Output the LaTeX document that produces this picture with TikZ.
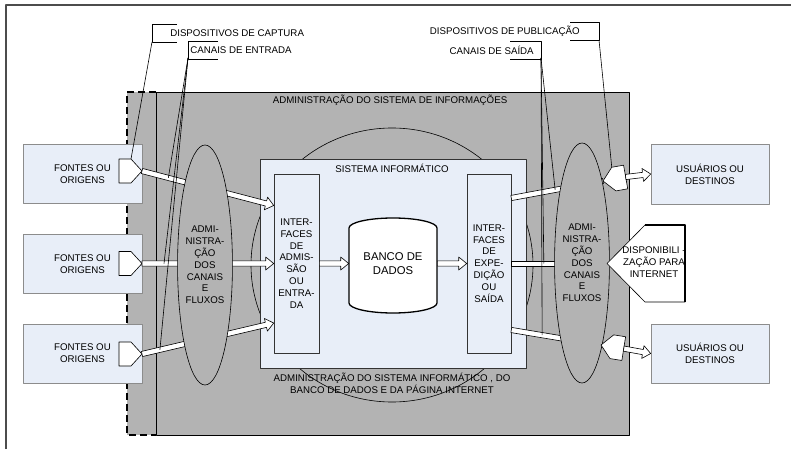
\documentclass[tikz,border=0pt]{standalone}
\usepackage{fontspec}
\setmainfont{Liberation Sans}
\usetikzlibrary{calc,shapes.geometric}
\definecolor{azulclaro}{RGB}{232,238,248}
\definecolor{cinza}{RGB}{179,179,179}
\definecolor{bordacinza}{RGB}{140,140,140}
\newcommand{\seta}[2]{%
	\draw[fill=white] ($(#1)!2.6pt!90:(#2)$) -- ($(#2)!8pt!(#1)!2.6pt!-90:(#1)$) -- ($(#2)!8pt!(#1)!6.5pt!-90:(#1)$) -- (#2) -- ($(#2)!8pt!(#1)!6.5pt!90:(#1)$) -- ($(#2)!8pt!(#1)!2.6pt!90:(#1)$) -- ($(#1)!2.6pt!-90:(#2)$) -- cycle;}
\newcommand{\duto}[2]{%
	\draw[fill=white] ($(#1)!2.6pt!90:(#2)$) -- ($(#2)!2.6pt!-90:(#1)$) -- ($(#2)!2.6pt!90:(#1)$) -- ($(#1)!2.6pt!-90:(#2)$) -- cycle;}
\begin{document}
\begin{tikzpicture}[x=1pt,y=-1pt,line join=round,line width=0.6pt,font=\fontsize{9.7pt}{11.8pt}\selectfont,
		caixa/.style={draw=bordacinza,fill=azulclaro,inner sep=0pt,align=center},
		interface/.style={draw=black!80,fill=azulclaro,minimum width=45pt,minimum height=179pt,inner sep=0pt,align=center},
		elipse/.style={ellipse,draw,fill=cinza,inner sep=0pt,align=center},
		rotulo/.style={inner sep=0pt},
		etiqueta/.pic={
			\draw[fill=white] (0,0) -- (-11,-12) -- (-23,-12) -- (-23,12) -- (-11,12) -- cycle;
			\coordinate (-ponta) at (0,0);
			\coordinate (-base) at (-23,0);
			\coordinate (-ca) at (-11,-12);
			\coordinate (-cb) at (-11,12);
		}]
	\useasboundingbox (0,0) rectangle (791,449);
	\draw[line width=1.2pt,black!70] (6,449) -- (6,5) -- (791,5);
	\fill[cinza] (127,92) rectangle (629,435);
	\draw (156,92) rectangle (629,435);
	\draw[line width=1.4pt,dash pattern=on 7pt off 4pt] (156,92) -- (127,92) -- (127,435) -- (156,435);
	\node at (390,100) {ADMINISTRAÇÃO DO SISTEMA DE INFORMAÇÕES};
	\node[ellipse,draw,minimum width=282pt,minimum height=274pt] (adm) at (392,265) {};
	\node[draw=black!80,fill=azulclaro,minimum width=266pt,minimum height=209pt] (si) at (393,263.5) {};
	\node at (392,168) {SISTEMA INFORMÁTICO};
	\node[align=center] at (392,383) {ADMINISTRAÇÃO DO SISTEMA INFORMÁTICO , DO\\BANCO DE DADOS E DA PÁGINA INTERNET};
	\node[interface] (ie) at (296.5,263.5) {INTER-\\FACES\\DE\\ADMIS-\\SÃO\\OU\\ENTRA-\\DA};
	\node[interface,minimum width=44pt] (is) at (489,263.5) {INTER-\\FACES\\DE\\EXPE-\\DIÇÃO\\OU\\SAÍDA};
	\draw[line width=1.3pt,fill=white] (349,228) -- (349,303) arc[start angle=180,end angle=360,x radius=44pt,y radius=10pt] -- (437,228) arc[start angle=0,end angle=180,x radius=44pt,y radius=10pt] -- cycle;
	\node[minimum width=88pt,minimum height=95pt,inner sep=0pt,align=center,font=\fontsize{11.3pt}{13.5pt}\selectfont] (bd) at (393,263.5) {BANCO DE\\DADOS};
	\seta{ie.east}{bd.west}
	\seta{bd.east}{is.west}
	\coordinate (ie1) at ($(ie.west)+(0,-58)$);
	\coordinate (ie2) at (ie.west);
	\coordinate (ie3) at ($(ie.west)+(0,59.5)$);
	\foreach \n/\y/\p in {1/174/171,2/264/263.5,3/353.5/354}{
		\node[caixa,minimum width=119pt,minimum height=59pt] (f\n) at (82.5,\y) {FONTES OU\\ORIGENS};
		\pic (t\n) at (142,\p) {etiqueta};
		\seta{t\n-ponta}{ie\n}
	}
	\node[elipse,minimum width=52pt,minimum height=240pt] (adme) at (205,265) {ADMI-\\NISTRA-\\ÇÃO\\DOS\\CANAIS\\E\\FLUXOS};
	\coordinate (is1) at ($(is.east)+(0,-65.5)$);
	\coordinate (is2) at (is.east);
	\coordinate (is3) at ($(is.east)+(0,66.5)$);
	\coordinate (ps1) at (603,181);
	\coordinate (ps2) at (607,263.5);
	\coordinate (ps3) at (601,345);
	\foreach \n in {1,2,3}{\duto{is\n}{ps\n}}
	\node[elipse,minimum width=54pt,minimum height=240pt] (adms) at (582,263) {ADMI-\\NISTRA-\\ÇÃO\\DOS\\CANAIS\\E\\FLUXOS};
	\pic[rotate=190] (ts1) at (ps1) {etiqueta};
	\pic[rotate=171] (ts3) at (ps3) {etiqueta};
	\node[caixa,minimum width=118pt,minimum height=60pt] (u1) at (710,174) {USUÁRIOS OU\\DESTINOS};
	\node[caixa,minimum width=118pt,minimum height=59pt] (u2) at (710,353.5) {USUÁRIOS OU\\DESTINOS};
	\seta{ts1-base}{u1.west}
	\seta{ts3-base}{u2.west}
	\draw[fill=white] (ps2) -- (645,225) -- (685,225) -- (685,302) -- (645,302) -- cycle;
	\draw[line width=1.8pt] (645,225) -- (685,225) -- (685,302);
	\node[rotulo,align=center] (disp) at (654,262) {DISPONIBILI -\\ZAÇÃO PARA\\INTERNET};
	\draw (177,24) -- (152,24) -- (152,42) -- (177,42);
	\node[rotulo,anchor=west] (dc) at (170,33) {DISPOSITIVOS DE CAPTURA};
	\coordinate (gdc) at (152,42);
	\draw (gdc) -- (t1-ca);
	\draw (218,41) -- (188,41) -- (188,59) -- (218,59);
	\node[rotulo,anchor=west] (ce) at (190,50) {CANAIS DE ENTRADA};
	\coordinate (gce) at (188,58);
	\foreach \n/\k in {1/0.2,2/0.167,3/0.136}{\draw (gce) -- ($(t\n-ponta)!\k!(ie\n)$);}
	\draw (570,22) -- (599,22) -- (599,40) -- (570,40);
	\node[rotulo,anchor=east] (dp) at (580,31) {DISPOSITIVOS DE PUBLICAÇÃO};
	\coordinate (gdp) at (599,40);
	\draw (gdp) -- (ts1-cb);
	\draw (510,41) -- (541,41) -- (541,59) -- (510,59);
	\node[rotulo,anchor=east] (cs) at (534,50) {CANAIS DE SAÍDA};
	\coordinate (gcs) at (541,58);
	\foreach \n/\k in {1/0.478,2/0.34,3/0.344}{\draw (gcs) -- ($(is\n)!\k!(ps\n)$);}
\end{tikzpicture}
\end{document}
